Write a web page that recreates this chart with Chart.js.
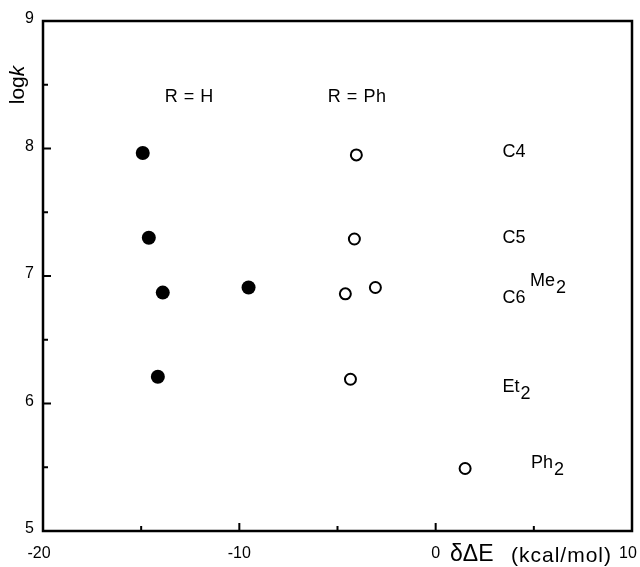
<!DOCTYPE html>
<html>
<head>
<meta charset="utf-8">
<script src="https://cdn.jsdelivr.net/npm/chart.js@4"></script>
<style>
  html, body { margin: 0; padding: 0; background: #fff; }
  #wrap { width: 640px; height: 567px; }
</style>
</head>
<body>
<div id="wrap"><canvas id="myChart" width="640" height="567"></canvas></div>
<script>
// R = H (filled circles)
const hX = [-14.92, -14.61, -13.90, -9.53, -14.15];
const hY = [7.965, 7.30, 6.87, 6.91, 6.21];
// R = Ph (open circles)
const phX = [-4.04, -4.14, -4.60, -3.07, -4.34, 1.50];
const phY = [7.95, 7.29, 6.86, 6.91, 6.19, 5.49];

const xMajor = [-20, -10, 0, 10];
const xMinor = [-15, -5, 5];
const yMajor = [5, 6, 7, 8, 9];
const yMinor = [5.5, 6.5, 7.5, 8.5];

// text labels: [text, subscript, x, y]
const groupLabels = [['R = H', '', -12.55, 8.40], ['R = Ph', '', -4.0, 8.40]];
const rowLabels = [
  ['C4', '', 3.4, 7.97],
  ['C5', '', 3.4, 7.30],
  ['Me', '2', 4.8, 6.96],
  ['C6', '', 3.4, 6.83],
  ['Et', '2', 3.4, 6.13],
  ['Ph', '2', 4.85, 5.53],
];

const FONT = '"Liberation Sans", Arial, sans-serif';

const axesPlugin = {
  id: 'axesPlugin',
  afterDraw(chart) {
    const { ctx, chartArea: a, scales: { x, y } } = chart;
    ctx.save();
    ctx.strokeStyle = '#000';
    ctx.fillStyle = '#000';
    ctx.lineWidth = 2.5;
    ctx.strokeRect(a.left, a.top, a.right - a.left, a.bottom - a.top);

    // ticks pointing inward
    ctx.lineWidth = 2;
    ctx.beginPath();
    xMajor.forEach(v => { const px = x.getPixelForValue(v); ctx.moveTo(px, a.bottom); ctx.lineTo(px, a.bottom - 8); });
    xMinor.forEach(v => { const px = x.getPixelForValue(v); ctx.moveTo(px, a.bottom); ctx.lineTo(px, a.bottom - 5); });
    yMajor.forEach(v => { const py = y.getPixelForValue(v); ctx.moveTo(a.left, py); ctx.lineTo(a.left + 8, py); });
    yMinor.forEach(v => { const py = y.getPixelForValue(v); ctx.moveTo(a.left, py); ctx.lineTo(a.left + 5, py); });
    ctx.stroke();

    // tick labels
    ctx.font = '16px ' + FONT;
    ctx.textBaseline = 'middle';
    ctx.textAlign = 'right';
    yMajor.forEach(v => ctx.fillText(String(v), a.left - 9, y.getPixelForValue(v) - 2));
    ctx.textAlign = 'center';
    xMajor.forEach(v => {
      let px = x.getPixelForValue(v);
      if (v === xMajor[0]) px -= 4;
      if (v === xMajor[xMajor.length - 1]) px -= 4;
      ctx.fillText(String(v), px, a.bottom + 23);
    });

    // axis titles
    ctx.textAlign = 'left';
    ctx.textBaseline = 'alphabetic';
    ctx.font = '23px ' + FONT;
    ctx.fillText('δΔE', 450, a.bottom + 30);
    ctx.font = '21px ' + FONT;
    ctx.letterSpacing = '1px';
    ctx.fillText('(kcal/mol)', 511, a.bottom + 31);
    ctx.letterSpacing = '0px';

    ctx.save();
    ctx.translate(24, 85);
    ctx.rotate(-Math.PI / 2);
    ctx.font = '21px ' + FONT;
    const w1 = ctx.measureText('log').width;
    ctx.font = 'italic 21px ' + FONT;
    const w2 = ctx.measureText('k').width;
    ctx.font = '21px ' + FONT;
    ctx.textAlign = 'left';
    ctx.fillText('log', -(w1 + w2) / 2, 0);
    ctx.font = 'italic 21px ' + FONT;
    ctx.fillText('k', -(w1 + w2) / 2 + w1, 0);
    ctx.restore();

    // annotations
    ctx.font = '18px ' + FONT;
    ctx.textBaseline = 'middle';
    ctx.textAlign = 'center';
    ctx.letterSpacing = '0.5px';
    groupLabels.forEach(([t, s, vx, vy]) => ctx.fillText(t, x.getPixelForValue(vx), y.getPixelForValue(vy)));
    ctx.letterSpacing = '0px';
    ctx.textAlign = 'left';
    rowLabels.forEach(([t, s, vx, vy]) => {
      const px = x.getPixelForValue(vx), py = y.getPixelForValue(vy);
      ctx.font = '18px ' + FONT;
      ctx.fillText(t, px, py);
      if (s) {
        const w = ctx.measureText(t).width;
        ctx.fillText(s, px + w + 1, py + 7);
      }
    });
    ctx.restore();
  }
};

new Chart(document.getElementById('myChart'), {
  type: 'scatter',
  data: {
    datasets: [
      {
        label: 'R = H',
        data: hX.map((v, i) => ({ x: v, y: hY[i] })),
        pointStyle: 'circle',
        pointRadius: 7,
        backgroundColor: '#000',
        borderColor: '#000',
        borderWidth: 0,
      },
      {
        label: 'R = Ph',
        data: phX.map((v, i) => ({ x: v, y: phY[i] })),
        pointStyle: 'circle',
        pointRadius: 5.5,
        backgroundColor: '#fff',
        borderColor: '#000',
        borderWidth: 2,
      },
    ],
  },
  options: {
    responsive: false,
    animation: false,
    layout: { padding: { left: 43, top: 21, right: 8, bottom: 36 } },
    plugins: { legend: { display: false }, tooltip: { enabled: false } },
    scales: {
      x: { type: 'linear', min: -20, max: 10, display: false },
      y: { type: 'linear', min: 5, max: 9, display: false },
    },
  },
  plugins: [axesPlugin],
});
</script>
</body>
</html>
